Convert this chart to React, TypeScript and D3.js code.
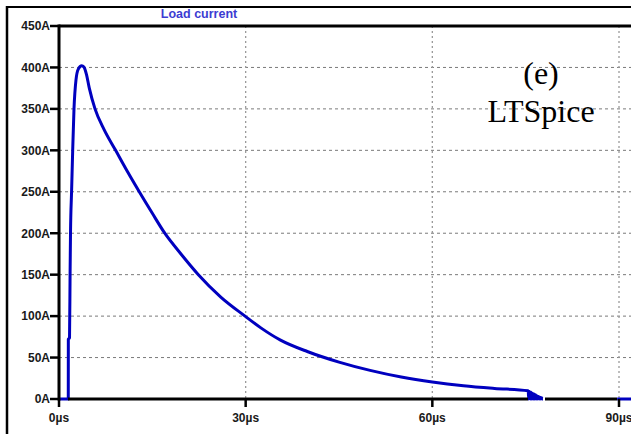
import React from "react";
import * as d3 from "d3";

// Load current trace: time in microseconds, current in amperes (null = not drawn)
const timeUs: number[] = [
  0, 1.49, 1.5, 1.69, 1.78, 1.85, 2.02, 2.2, 2.41, 2.73, 3.1, 3.65, 4.0, 4.4,
  4.87, 5.79, 7.25, 9.1, 10.95, 12.9, 15.0, 17.0, 19.6, 22.4, 26.0, 29.9, 32.5,
  35.6, 40.0, 45.0, 50.0, 55.0, 60.0, 65.0, 70.0, 75.4,
  // turn-off ringing
  75.5, 75.62, 75.74, 75.86, 75.98, 76.1, 76.22, 76.34, 76.46, 76.58, 76.7,
  76.82, 76.94, 77.06, 77.18, 77.3, 77.42, 77.54, 77.66, 77.78,
  83.0, 89.7, 95.0,
];
const currentA: (number | null)[] = [
  0, 0, 72, 74, 150, 200, 250, 300, 350, 385, 398, 402, 400.5, 392,
  375, 350, 325, 300, 275, 250, 224, 200, 175, 150, 123, 100, 85.5,
  71, 57, 44.5, 34.5, 26.5, 20.5, 16, 12.8, 10,
  0, 9, 0, 8, 0, 7, 0, 6, 0, 5, 0,
  4, 0, 3, 0, 2.2, 0, 1.4, 0, 0,
  null, 0, 0,
];

const yTicks: number[] = [0, 50, 100, 150, 200, 250, 300, 350, 400, 450];
const yTickLabels: string[] = yTicks.map((v) => `${v}A`);
const xTicks: number[] = [0, 30, 60, 90];
const xTickLabels: string[] = xTicks.map((v) => `${v}µs`);

const title = "Load current";
const noteLines: string[] = ["(e)", "LTSpice"];

const W = 631;
const H = 434;

export default function App() {
  const left = 59;
  const top = 26;
  const bottom = 399;
  const right = 660;

  const x = d3.scaleLinear().domain([0, 90]).range([left, 619]);
  const y = d3.scaleLinear().domain([0, 450]).range([bottom, top]);

  const pts = timeUs.map((t, i) => ({ t, a: currentA[i] }));
  const line = d3
    .line<{ t: number; a: number | null }>()
    .defined((d) => d.a !== null)
    .x((d) => x(d.t))
    .y((d) => y(d.a as number))
    .curve(d3.curveMonotoneX);

  const labelFont = "'Liberation Sans', Arial, sans-serif";

  return (
    <svg
      width={W}
      height={H}
      style={{ position: "absolute", left: 0, top: 0, background: "#fff", display: "block" }}
    >
      <defs>
        <clipPath id="plotArea">
          <rect x={left} y={top} width={right - left} height={bottom - top + 2} />
        </clipPath>
      </defs>

      {/* title */}
      <text
        x={199}
        y={18}
        textAnchor="middle"
        fontFamily={labelFont}
        fontWeight="bold"
        fontSize={12.5}
        fill="#3c3cd2"
      >
        {title}
      </text>

      {/* grid */}
      {yTicks
        .filter((v) => v > 0 && v < 450)
        .map((v) => (
          <line
            key={`gy${v}`}
            x1={left}
            x2={right}
            y1={y(v)}
            y2={y(v)}
            stroke="#7a7a7a"
            strokeWidth={1}
            strokeDasharray="3,3"
          />
        ))}
      {xTicks
        .filter((v) => v > 0)
        .map((v) => (
          <line
            key={`gx${v}`}
            x1={x(v)}
            x2={x(v)}
            y1={top}
            y2={bottom}
            stroke="#9a9a9a"
            strokeWidth={1.3}
            strokeDasharray="2,3"
          />
        ))}

      {/* annotation */}
      {noteLines.map((s, i) => (
        <text
          key={s}
          x={541}
          y={84 + i * 38}
          textAnchor="middle"
          fontFamily="'Liberation Serif', 'Times New Roman', serif"
          fontSize={32}
          fill="#000"
        >
          {s}
        </text>
      ))}

      {/* trace */}
      <path
        d={line(pts) ?? ""}
        fill="none"
        stroke="#0000bf"
        strokeWidth={3}
        strokeLinejoin="round"
        clipPath="url(#plotArea)"
      />

      {/* axes frame */}
      <line x1={left} y1={top} x2={W} y2={top} stroke="#000" strokeWidth={3} />
      <line x1={left} y1={top - 1.5} x2={left} y2={bottom + 1.5} stroke="#000" strokeWidth={3} />
      <line x1={68} y1={bottom} x2={528} y2={bottom} stroke="#000" strokeWidth={3} />
      <line x1={545} y1={bottom} x2={617} y2={bottom} stroke="#000" strokeWidth={3} />

      {/* y ticks */}
      {yTicks.map((v, i) => (
        <g key={`yt${v}`}>
          <line x1={50} x2={left} y1={y(v)} y2={y(v)} stroke="#000" strokeWidth={2.5} />
          <text
            x={50}
            y={y(v)}
            dy="0.36em"
            textAnchor="end"
            fontFamily={labelFont}
            fontWeight="bold"
            fontSize={12}
            fill="#1a1a1a"
          >
            {yTickLabels[i]}
          </text>
        </g>
      ))}

      {/* x ticks */}
      {xTicks.map((v, i) => (
        <g key={`xt${v}`}>
          <line x1={x(v)} x2={x(v)} y1={bottom} y2={bottom + 8} stroke="#000" strokeWidth={2.5} />
          <text
            x={x(v)}
            y={422}
            textAnchor="middle"
            fontFamily={labelFont}
            fontWeight="bold"
            fontSize={12}
            fill="#1a1a1a"
          >
            {xTickLabels[i]}
          </text>
        </g>
      ))}

      {/* outer frame */}
      <line x1={7} y1={6} x2={7} y2={H} stroke="#000" strokeWidth={2.5} />
      <line x1={6} y1={7} x2={W} y2={7} stroke="#000" strokeWidth={2} />
    </svg>
  );
}
